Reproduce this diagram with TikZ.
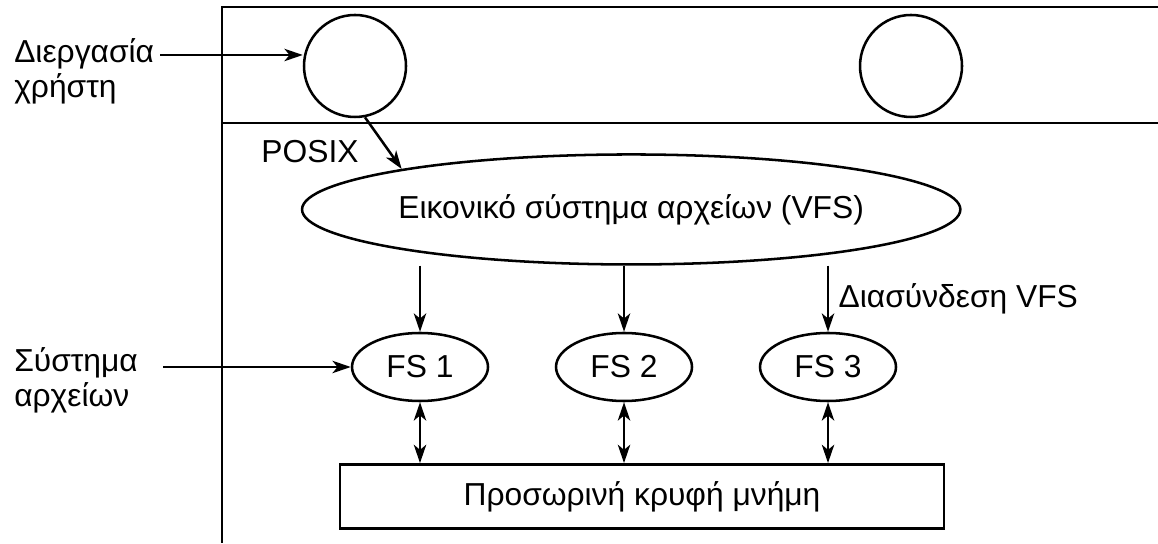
\documentclass[tikz,border=0pt]{standalone}
\usepackage{fontspec}
\setmainfont{Liberation Sans}
\usetikzlibrary{shapes.geometric, positioning, arrows.meta}
\tikzset{
>={Stealth[length=6.5pt, width=4.4pt, inset=1.8pt]}, % narrow filled heads
node distance=2.55cm, % spacing of the file systems
every node/.style={font=\fontsize{11.3}{12.4}\selectfont}, % sans text everywhere
proc/.style={circle, draw, minimum size=1.275cm, inner sep=0pt}, % user processes
fsnode/.style={ellipse, draw, minimum width=1.7cm, minimum height=0.85cm, inner sep=0pt}, % one file system
lbl/.style={align=left, anchor=west, inner sep=0pt}, % side texts
}
\begin{document}
\begin{tikzpicture}[line width=0.9pt]
            \useasboundingbox (0,0) rectangle (14.475,6.7875);
            % user space / kernel frame
            \draw (14.475,6.7) -- (2.775,6.7) -- (2.775,0);
            \draw (2.775,5.25) -- (14.475,5.25);
            \node[proc] (u1) at (4.4375,5.9625) {};
            \node[proc] (u2) at (11.3875,5.9625) {};
            \node[fsnode] (fs1) at (5.25,2.2) {FS 1};
            \node[fsnode, right of=fs1] (fs2) {FS 2};
            \node[fsnode, right of=fs2] (fs3) {FS 3};
            \node[ellipse, draw, minimum width=8.09cm, minimum height=1.375cm, inner sep=0pt,
                  above=0.825cm of fs2, xshift=0.09cm] (vfs) {Εικονικό σύστημα αρχείων (VFS)};
            \node[draw, minimum width=7.55cm, minimum height=0.8cm, inner sep=0pt,
                  below=0.76cm of fs2, xshift=0.225cm] (cache) {Προσωρινή κρυφή μνήμη};
            % labels on the left
            \node[lbl] (plbl) at (0.1625,5.9) {Διεργασία\\χρήστη};
            \coordinate (pin) at (2.0,6.1);
            \node[lbl] (flbl) at (0.1625,2.0375) {Σύστημα\\αρχείων};
            \coordinate (fin) at (2.0375,2.2);
            \node[inner sep=0pt] (posix) at (3.875,4.8875) {POSIX};
            \draw[->] (pin) -- (pin -| u1.west);
            \draw[->] (fin) -- (fs1.west);
            \draw[->] (u1.281) -- (vfs.170);
            \draw[->] (fs1 |- vfs.south) -- (fs1.north);
            \draw[->] (fs2 |- vfs.south) -- (fs2.north);
            \draw[->] (fs3 |- vfs.south) -- node[right] {Διασύνδεση VFS} (fs3.north);
            \foreach \f in {fs1,fs2,fs3}
                \draw[<->] (\f.south) -- (\f |- cache.north);
\end{tikzpicture}
\end{document}
